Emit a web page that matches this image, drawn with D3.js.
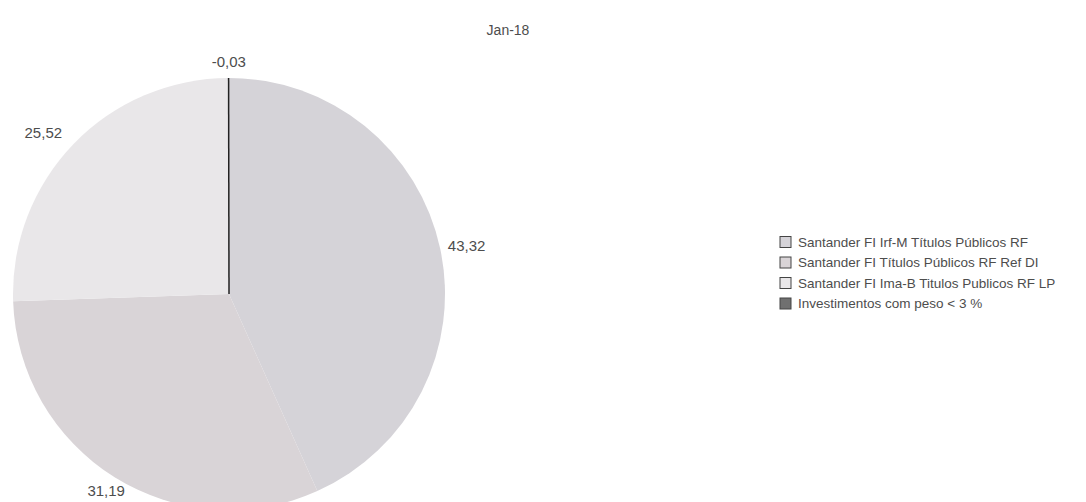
<!DOCTYPE html>
<html>
<head>
<meta charset="utf-8">
<script src="https://cdn.jsdelivr.net/npm/d3@7"></script>
<style>
  html, body { margin: 0; padding: 0; background: #ffffff; }
  svg { display: block; }
  text { font-family: "Liberation Sans", Arial, sans-serif; fill: #4d4d4d; }
</style>
</head>
<body>
<svg id="chart" width="1086" height="502"></svg>
<script>
const title = "Jan-18";
const categories = [
  "Santander FI Irf-M Títulos Públicos RF",
  "Santander FI Títulos Públicos RF Ref DI",
  "Santander FI Ima-B Titulos Publicos RF LP",
  "Investimentos com peso < 3 %"
];
const values = [43.32, 31.19, 25.52, -0.03];
const valueLabels = ["43,32", "31,19", "25,52", "-0,03"];
const colors = ["#d5d3d8", "#d9d4d7", "#e9e7e9", "#707070"];

const svg = d3.select("#chart");
const cx = 229, cy = 294, r = 216;

const pie = d3.pie().sort(null).value(d => Math.abs(d.v));
const data = pie(values.map((v, i) => ({v, i})));
const arc = d3.arc().innerRadius(0).outerRadius(r);

const g = svg.append("g").attr("transform", `translate(${cx},${cy})`);

g.selectAll("path.slice")
  .data(data.filter(d => d.data.v > 0))
  .join("path")
  .attr("class", "slice")
  .attr("d", arc)
  .attr("fill", d => colors[d.data.i]);

// negative slice drawn as a line at its position
data.filter(d => d.data.v <= 0).forEach(d => {
  const a = d.startAngle;
  g.append("line")
    .attr("x1", 0).attr("y1", 0)
    .attr("x2", r * Math.sin(a)).attr("y2", -r * Math.cos(a))
    .attr("stroke", "#222").attr("stroke-width", 1.5);
});

// value labels
const labelArc = d3.arc().innerRadius(r + 16).outerRadius(r + 16);
g.selectAll("text.val")
  .data(data)
  .join("text")
  .attr("class", "val")
  .attr("font-size", 15)
  .each(function(d) {
    const mid = (d.startAngle + d.endAngle) / 2;
    const [x, y] = labelArc.centroid(d);
    const s = Math.sin(mid);
    let anchor = "middle";
    if (s > 0.6) anchor = "start";
    else if (s < -0.6) anchor = "end";
    d3.select(this)
      .attr("x", anchor === "start" ? x - 8 : x)
      .attr("y", y)
      .attr("dy", "0.35em")
      .attr("text-anchor", anchor)
      .text(valueLabels[d.data.i]);
  });

// title
svg.append("text")
  .attr("x", 508).attr("y", 35)
  .attr("text-anchor", "middle")
  .attr("font-size", 14)
  .text(title);

// legend
const legend = svg.append("g").attr("transform", "translate(780,242)");
const rowH = 20.5;
const items = legend.selectAll("g.item")
  .data(categories)
  .join("g")
  .attr("class", "item")
  .attr("transform", (d, i) => `translate(0,${i * rowH})`);
items.append("rect")
  .attr("x", 0).attr("y", -5.5)
  .attr("width", 11).attr("height", 11)
  .attr("fill", (d, i) => colors[i])
  .attr("stroke", "#444").attr("stroke-width", 1);
items.append("text")
  .attr("x", 18).attr("y", 0)
  .attr("dy", "0.35em")
  .attr("font-size", 13.5)
  .text(d => d);
</script>
</body>
</html>
